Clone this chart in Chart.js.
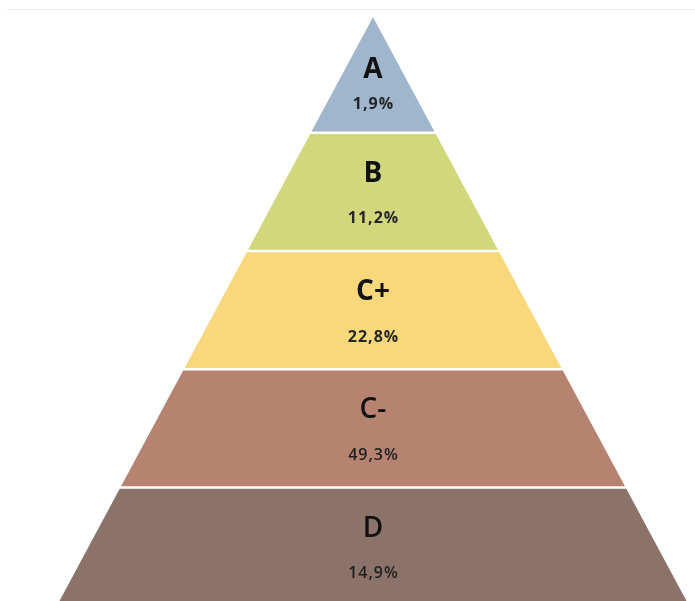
<!DOCTYPE html>
<html>
<head>
<meta charset="utf-8">
<script src="https://cdn.jsdelivr.net/npm/chart.js@4/dist/chart.umd.min.js"></script>
<style>
  body { margin: 0; background: #fff; }
  #wrap { position: relative; width: 695px; height: 601px; }
  #topline { position: absolute; top: 9px; left: 7px; right: 0; height: 1px; background: #ebebeb; box-shadow: 0 2px 3px rgba(0,0,0,0.05); }
</style>
</head>
<body>
<div id="wrap">
  <canvas id="pyramid"></canvas>
  <div id="topline"></div>
</div>
<script>
const grades = ['A', 'B', 'C+', 'C-', 'D'];
const shares = [1.9, 11.2, 22.8, 49.3, 14.9];
const colors = ['#a0b6cc', '#d0d87b', '#f9d87c', '#b68371', '#8c7369'];

// each level i is a trapezoid from y=i to y=i+1, half width equal to y
const datasets = grades.map((g, i) => ({
  label: g,
  data: [
    { x: -(i + 1), y: i + 1 },
    { x: -i, y: i },
    { x: i, y: i },
    { x: i + 1, y: i + 1 },
  ],
  showLine: true,
  fill: { value: i + 1 },
  order: grades.length - i, // lower levels drawn last so their white edge shows
  backgroundColor: colors[i],
  borderColor: '#ffffff',
  borderWidth: 2.5,
  pointRadius: 0,
  pointHoverRadius: 0,
}));

const labelPlugin = {
  id: 'levelLabels',
  afterDatasetsDraw(chart) {
    const { ctx, scales } = chart;
    const cx = scales.x.getPixelForValue(0);
    ctx.save();
    ctx.textAlign = 'center';
    ctx.textBaseline = 'middle';
    grades.forEach((g, i) => {
      const dark = i >= 3;
      const letterOff = i === 0 ? 0.47 : 0.347;
      const pctOff = i === 0 ? 0.757 : 0.727;
      ctx.letterSpacing = '0px';
      ctx.fillStyle = '#111';
      ctx.font = (dark ? '600' : 'bold') + ' 28px "Open Sans"';
      ctx.fillText(g, cx, scales.y.getPixelForValue(i + letterOff));
      ctx.letterSpacing = '1px';
      ctx.fillStyle = dark ? '#1e1e1e' : '#262626';
      ctx.font = (dark ? '600' : 'bold') + ' 16px "Open Sans"';
      ctx.fillText(shares[i].toFixed(1).replace('.', ',') + '%', cx + 0.5, scales.y.getPixelForValue(i + pctOff));
    });
    ctx.restore();
  },
};

new Chart(document.getElementById('pyramid'), {
  type: 'scatter',
  data: { datasets },
  options: {
    responsive: true,
    maintainAspectRatio: false,
    animation: false,
    layout: { padding: 0 },
    plugins: { legend: { display: false }, tooltip: { enabled: false } },
    scales: {
      x: { type: 'linear', display: false, min: -5.874, max: 5.071 },
      y: { type: 'linear', display: false, reverse: true, min: -0.1226, max: 4.9598 },
    },
  },
  plugins: [labelPlugin],
});
</script>
</body>
</html>
